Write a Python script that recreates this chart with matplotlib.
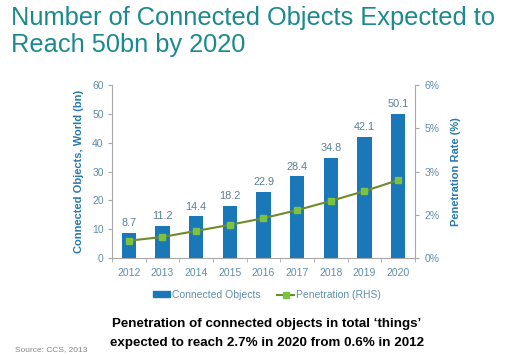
import matplotlib
matplotlib.use("Agg")
import matplotlib.pyplot as plt
from matplotlib.ticker import FixedLocator, FixedFormatter
from matplotlib.lines import Line2D
from matplotlib.patches import Patch

years = ["2012", "2013", "2014", "2015", "2016", "2017", "2018", "2019", "2020"]
connected = [8.7, 11.2, 14.4, 18.2, 22.9, 28.4, 34.8, 42.1, 50.1]
penetration = [0.6, 0.73, 0.94, 1.15, 1.38, 1.66, 1.98, 2.32, 2.7]
left_ticks = [0, 10, 20, 30, 40, 50, 60]
right_ticks = [0, 1.5, 3, 4.5, 6]
right_labels = ["0%", "2%", "3%", "5%", "6%"]

plt.rcParams['font.family'] = ['Liberation Sans', 'DejaVu Sans']

W, H = 521, 355
fig = plt.figure(figsize=(W / 100, H / 100), dpi=100)
fig.patch.set_facecolor("white")

ax_l, ax_r, ax_t, ax_b = 112, 415, 85, 258
ax = fig.add_axes([ax_l / W, 1 - ax_b / H, (ax_r - ax_l) / W, (ax_b - ax_t) / H])

bar_color = "#1a78b8"
tick_color = "#5f8fa6"
label_color = "#2879ad"
spine_color = "#a8a8a8"

x = list(range(len(years)))
bars = ax.bar(x, connected, width=0.43, color=bar_color, zorder=2)
for xi, v in zip(x, connected):
    ax.text(xi, v + 1.6, f"{v:.1f}", ha="center", va="bottom", fontsize=7.8, color="#5a7f96")

ax.set_xlim(-0.5, len(years) - 0.5)
ax.set_ylim(0, 60)
ax.yaxis.set_major_locator(FixedLocator(left_ticks))
ax.set_xticks(x)
ax.set_xticklabels(years)
ax.set_xticks([i + 0.5 for i in range(-1, len(years))], minor=True)
ax.tick_params(axis="x", which="major", length=0, pad=7, labelsize=7.5, labelcolor=tick_color)
ax.tick_params(axis="x", which="minor", length=3, direction="out", color=spine_color)
ax.tick_params(axis="y", length=3, direction="out", color=spine_color, labelsize=7.5, labelcolor=tick_color, pad=3)
for s in ["top", "right"]:
    ax.spines[s].set_visible(False)
for s in ["left", "bottom"]:
    ax.spines[s].set_color(spine_color)
ax.set_ylabel("Connected Objects, World (bn)", fontsize=8, fontweight="bold", color=label_color, labelpad=6)

ax2 = ax.twinx()
ax2.set_ylim(0, 6)
ax2.yaxis.set_major_locator(FixedLocator(right_ticks))
ax2.yaxis.set_major_formatter(FixedFormatter(right_labels))
ax2.plot(x, penetration, color="#6e8b2a", lw=1.5, marker="s", markersize=4.5,
         markerfacecolor="#7cc242", markeredgecolor="#7cc242", zorder=3)
for s in ["top", "left", "bottom"]:
    ax2.spines[s].set_visible(False)
ax2.spines["right"].set_color(spine_color)
ax2.tick_params(axis="y", length=3, direction="out", color=spine_color, labelsize=7.5, labelcolor=tick_color, pad=4)
ax2.set_ylabel("Penetration Rate (%)", fontsize=8, fontweight="bold", color=label_color, labelpad=8)

# Title
fig.text(11 / W, 1 - 18 / H, "Number of Connected Objects Expected to", fontsize=18.3,
         color="#1a8a8e", ha="left", va="center")
fig.text(11 / W, 1 - 45 / H, "Reach 50bn by 2020", fontsize=18.3,
         color="#1a8a8e", ha="left", va="center")

# Legend
handles = [Patch(facecolor=bar_color, edgecolor=bar_color),
           Line2D([0], [0], color="#6e8b2a", lw=1.5, marker="s", markersize=4.5,
                  markerfacecolor="#7cc242", markeredgecolor="#7cc242")]
leg = fig.legend(handles, ["Connected Objects", "Penetration (RHS)"], loc="center",
                 bbox_to_anchor=(267 / W, 1 - 295 / H), ncol=2, frameon=False,
                 fontsize=7.5, handlelength=1.6, handleheight=0.5, handletextpad=0.2,
                 columnspacing=1.6)
for t in leg.get_texts():
    t.set_color(tick_color)

# Bottom annotation
fig.text(267 / W, 1 - 324 / H, "Penetration of connected objects in total \u2018things\u2019",
         fontsize=9.6, fontweight="bold", color="black", ha="center", va="center")
fig.text(267 / W, 1 - 343 / H, "expected to reach 2.7% in 2020 from 0.6% in 2012",
         fontsize=9.6, fontweight="bold", color="black", ha="center", va="center")

fig.text(15 / W, 1 - 350 / H, "Source: CCS, 2013", fontsize=6, color="#888888", ha="left", va="center")

fig.savefig("out.png", dpi=100, facecolor="white")
